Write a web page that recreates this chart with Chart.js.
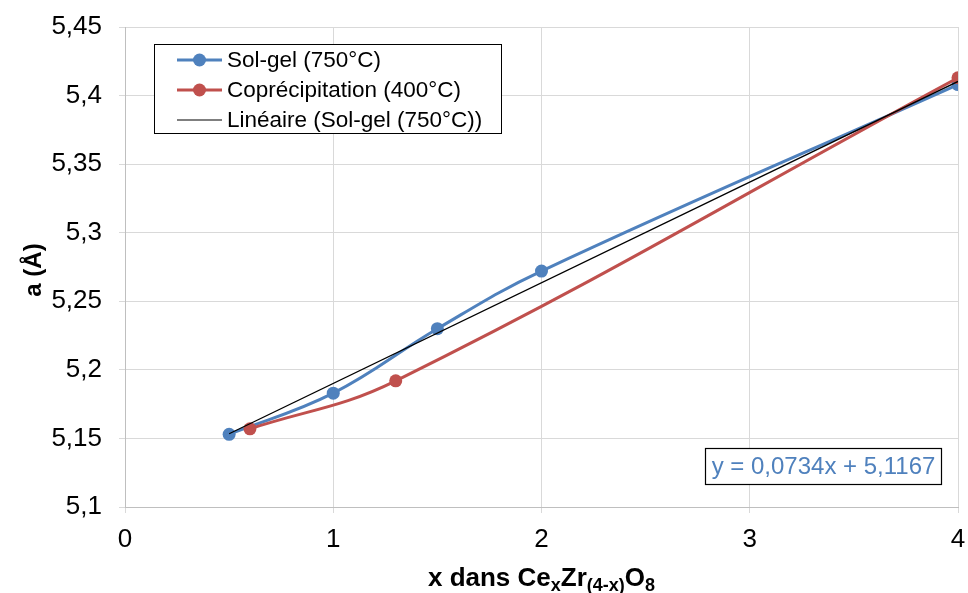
<!DOCTYPE html>
<html>
<head>
<meta charset="utf-8">
<script src="https://cdn.jsdelivr.net/npm/chart.js@4"></script>
<style>
	body { margin: 0; background: #fff; }
	canvas { display: block; }
</style>
</head>
<body>
<canvas id="chart" width="968" height="593"></canvas>
<script>
// Données
const solGelX = [0.5, 1, 1.5, 2, 4];
const solGelY = [5.153, 5.183, 5.23, 5.272, 5.408];
const coprecX = [0.6, 1.3, 4];
const coprecY = [5.157, 5.192, 5.413];
const trendX = [0.5, 4];
const trendY = [5.1534, 5.4103];
const seriesLabels = ["Sol-gel (750°C)", "Coprécipitation (400°C)", "Linéaire (Sol-gel (750°C))"];
const equationText = "y = 0,0734x + 5,1167";

const BLUE = "#4f81bd";
const RED = "#c0504d";
const FONT = "'Liberation Sans', Arial, sans-serif";

function toPoints(xs, ys) {
	return xs.map((x, i) => ({ x: x, y: ys[i] }));
}

function fmt(v) {
	return String(Math.round(v * 100) / 100).replace(".", ",");
}

// Légende, équation et titres d'axes
const overlay = {
	id: "overlay",
	afterDraw(chart) {
		const ctx = chart.ctx;
		const area = chart.chartArea;
		ctx.save();

		// légende encadrée
		ctx.fillStyle = "#fff";
		ctx.fillRect(154.5, 44.5, 347, 89);
		ctx.strokeStyle = "#000";
		ctx.lineWidth = 1;
		ctx.strokeRect(154.5, 44.5, 347, 89);
		const rows = [60, 90, 120];
		const colors = [BLUE, RED, "#000"];
		ctx.font = "22.5px " + FONT;
		ctx.textBaseline = "middle";
		rows.forEach((y, i) => {
			ctx.strokeStyle = colors[i];
			ctx.lineWidth = i < 2 ? 3 : 1.2;
			ctx.beginPath();
			ctx.moveTo(177, y);
			ctx.lineTo(222, y);
			ctx.stroke();
			if (i < 2) {
				ctx.fillStyle = colors[i];
				ctx.beginPath();
				ctx.arc(199.5, y, 6.5, 0, Math.PI * 2);
				ctx.fill();
			}
			ctx.fillStyle = "#000";
			ctx.textAlign = "left";
			ctx.fillText(seriesLabels[i], 227, y + 1);
		});

		// équation de la tendance
		ctx.fillStyle = "#fff";
		ctx.fillRect(705.5, 448.5, 236, 36);
		ctx.strokeStyle = "#000";
		ctx.strokeRect(705.5, 448.5, 236, 36);
		ctx.fillStyle = BLUE;
		ctx.textAlign = "center";
		ctx.font = "24px " + FONT;
		ctx.fillText(equationText, 823.5, 467.5);

		// titre de l'axe Y
		ctx.fillStyle = "#000";
		ctx.font = "bold 24px " + FONT;
		ctx.translate(34, 270);
		ctx.rotate(-Math.PI / 2);
		ctx.textAlign = "center";
		ctx.fillText("a (Å)", 0, 0);
		ctx.setTransform(1, 0, 0, 1, 0, 0);

		// titre de l'axe X avec indices
		const parts = [
			["x dans Ce", false], ["x", true], ["Zr", false],
			["(4-x)", true], ["O", false], ["8", true]
		];
		const big = "bold 26px " + FONT;
		const small = "bold 18px " + FONT;
		let total = 0;
		parts.forEach(p => { ctx.font = p[1] ? small : big; total += ctx.measureText(p[0]).width; });
		let x = (area.left + area.right) / 2 - total / 2;
		const base = 586;
		ctx.textAlign = "left";
		ctx.textBaseline = "alphabetic";
		parts.forEach(p => {
			ctx.font = p[1] ? small : big;
			ctx.fillText(p[0], x, p[1] ? base + 5 : base);
			x += ctx.measureText(p[0]).width;
		});
		ctx.restore();
	}
};

new Chart(document.getElementById("chart").getContext("2d"), {
	type: "line",
	data: {
		datasets: [
			{
				label: seriesLabels[0],
				data: toPoints(solGelX, solGelY),
				borderColor: BLUE,
				backgroundColor: BLUE,
				borderWidth: 3,
				pointRadius: 6.5,
				pointBorderWidth: 0,
				tension: 0.4,
				order: 2,
			},
			{
				label: seriesLabels[1],
				data: toPoints(coprecX, coprecY),
				borderColor: RED,
				backgroundColor: RED,
				borderWidth: 3,
				pointRadius: 6.5,
				pointBorderWidth: 0,
				tension: 0.4,
				order: 1,
			},
			{
				label: seriesLabels[2],
				data: toPoints(trendX, trendY),
				borderColor: "#000",
				borderWidth: 1.3,
				pointRadius: 0,
				tension: 0,
				order: 0,
			},
		],
	},
	options: {
		responsive: false,
		animation: false,
		layout: { padding: { top: 27, right: 10, left: 0, bottom: 0 } },
		plugins: { legend: { display: false }, tooltip: { enabled: false } },
		scales: {
			x: {
				type: "linear",
				min: 0,
				max: 4,
				ticks: { stepSize: 1, color: "#000", font: { family: FONT, size: 26 }, padding: 11 },
				grid: { color: "#d9d9d9", tickLength: 6 },
				border: { color: "#bfbfbf" },
				afterFit(scale) {
					scale.height = 86;
					scale.paddingLeft = 0;
					scale.paddingRight = 0;
				},
			},
			y: {
				min: 5.1,
				max: 5.45,
				ticks: { stepSize: 0.05, color: "#000", font: { family: FONT, size: 26 }, padding: 17, callback: fmt },
				grid: { color: "#d9d9d9", tickLength: 6 },
				border: { color: "#bfbfbf" },
				afterFit(scale) {
					scale.width = 125;
					scale.paddingTop = 0;
					scale.paddingBottom = 0;
				},
			},
		},
	},
	plugins: [overlay],
});
</script>
</body>
</html>
